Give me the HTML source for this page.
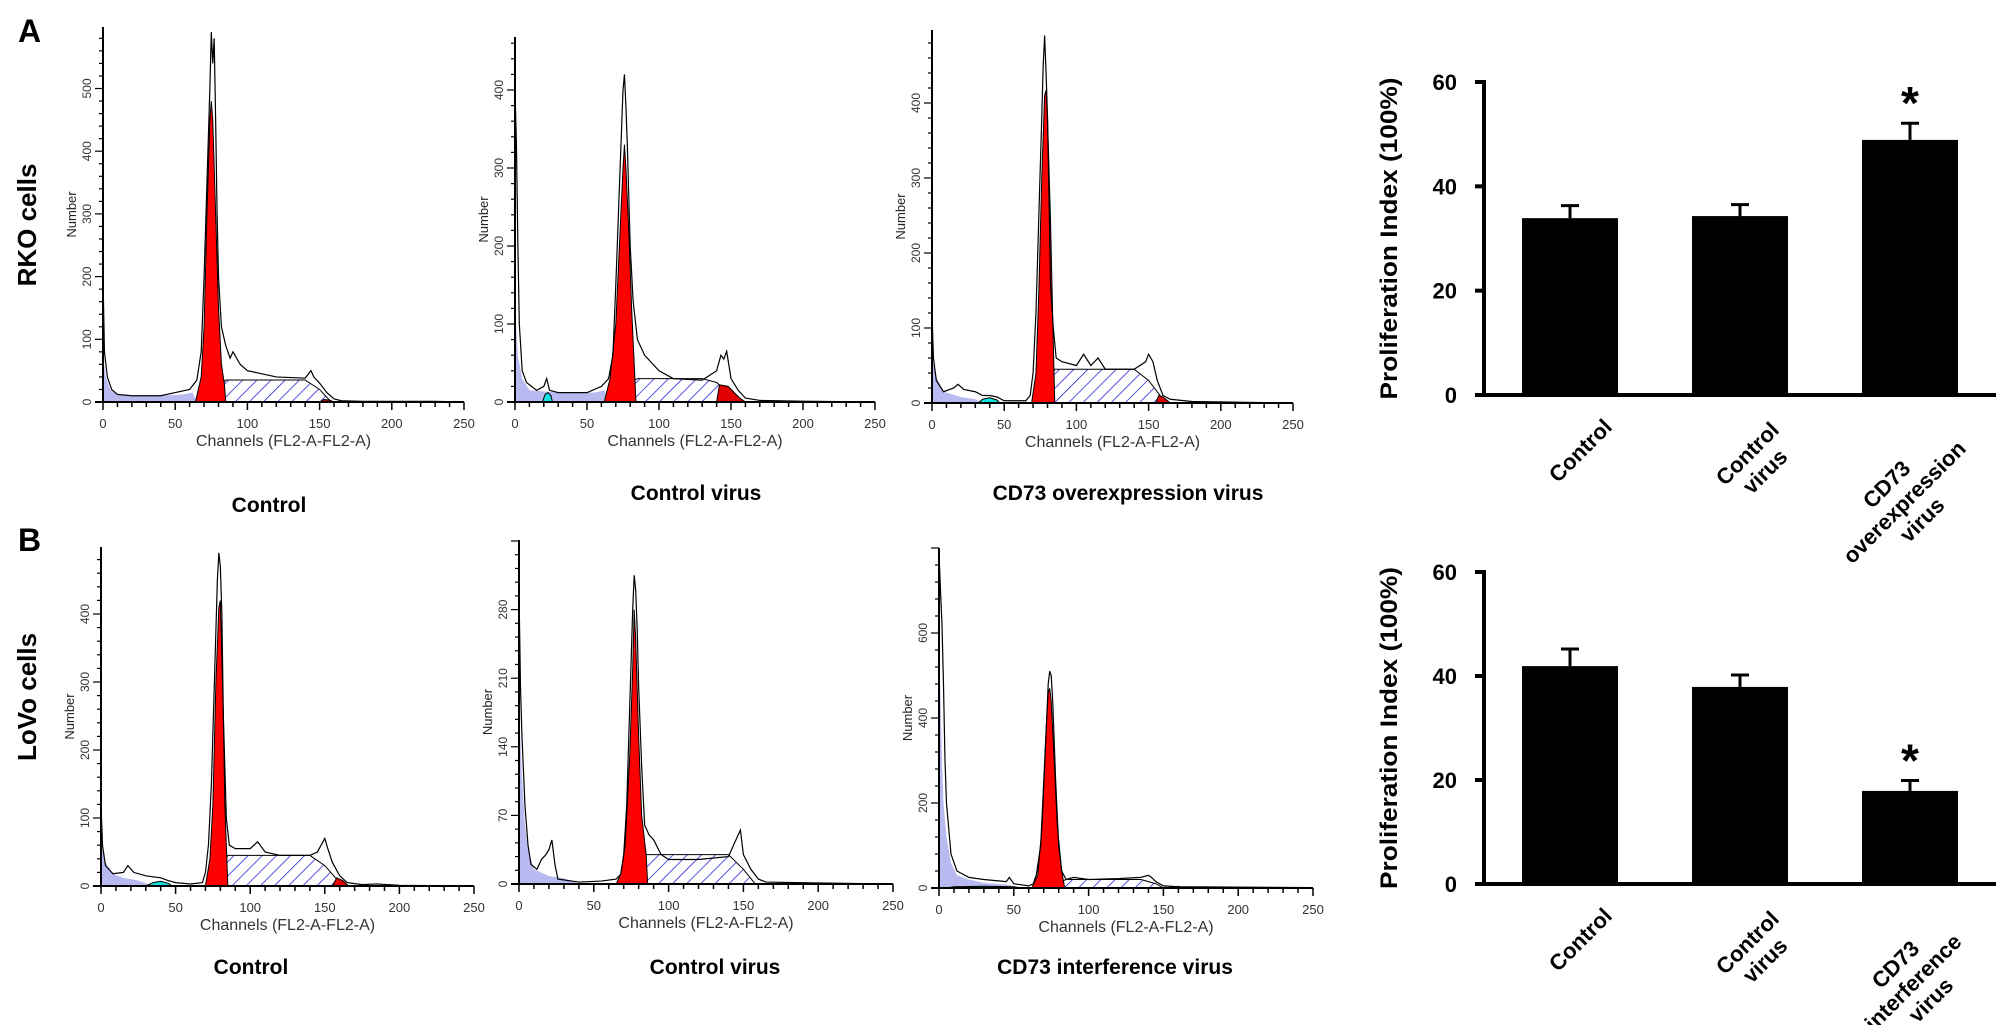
<!DOCTYPE html>
<html><head><meta charset="utf-8">
<style>
html,body{margin:0;padding:0;background:#fff;}
svg{display:block;font-family:"Liberation Sans",Arial,sans-serif;}
</style></head>
<body>
<svg id="fig" width="2008" height="1025" viewBox="0 0 2008 1025" xmlns="http://www.w3.org/2000/svg">
<defs>
<pattern id="hatch" patternUnits="userSpaceOnUse" width="10" height="10" patternTransform="rotate(45)">
<rect width="10" height="10" fill="#fff"/>
<line x1="0" y1="0" x2="0" y2="10" stroke="#2a2ad8" stroke-width="1.6"/>
</pattern>
</defs>
<text x="18" y="42" font-size="32" font-weight="bold">A</text>
<text x="18" y="551" font-size="32" font-weight="bold">B</text>
<text transform="translate(36,225) rotate(-90)" text-anchor="middle" font-size="26" font-weight="bold">RKO cells</text>
<text transform="translate(36,697) rotate(-90)" text-anchor="middle" font-size="26" font-weight="bold">LoVo cells</text>
<g id="hists"></g>
<g id="bars"></g>
</svg>
<script>
// ---------- Histogram data (channel, count) ----------
const a1Outline=[[0,200],[1,80],[3,40],[6,20],[10,12],[20,10],[40,10],[50,15],[60,20],[65,35],[68,80],[70,200],[72,350],[74,500],[75,590],[76,540],[77,580],[78,450],[79,300],[80,200],[82,120],[85,90],[88,70],[90,80],[95,60],[100,50],[110,45],[120,40],[140,38],[144,50],[146,40],[150,30],[155,15],[160,5],[165,2],[180,1],[230,1],[250,0]];
const a1Debris=[[0,72],[2,40],[5,20],[10,12],[20,10],[40,10],[55,12],[62,15],[65,0]];
const a1G1=[[64,0],[68,40],[70,120],[72,300],[74,450],[75,480],[76,450],[78,300],[80,150],[82,60],[84,30],[85,0]];
const a1S=[[70,0],[80,20],[85,35],[140,35],[150,20],[158,0]];
const a1G2=[[150,0],[153,4],[157,3],[160,0]];
const a1Sub=[];
const a1YTicks=[0,100,200,300,400,500];

const a2Outline=[[0,400],[1,330],[2,200],[3,100],[5,40],[8,25],[15,15],[20,20],[22,30],[24,15],[30,12],[50,12],[60,20],[65,30],[68,60],[70,150],[72,250],[74,350],[75,400],[76,420],[77,380],[78,330],[80,200],[82,130],[85,80],[90,60],[95,50],[100,40],[110,30],[130,28],[140,40],[143,60],[145,55],[147,65],[150,30],[155,15],[160,5],[170,2],[200,1],[250,0]];
const a2Debris=[[0,120],[2,60],[5,30],[10,15],[30,12],[55,12],[62,15],[66,0]];
const a2G1=[[62,0],[66,30],[70,100],[73,220],[75,300],[76,330],[77,300],[79,220],[81,120],[83,40],[84,0]];
const a2S=[[70,0],[80,25],[85,30],[130,30],[140,25],[155,0]];
const a2G2=[[140,0],[142,22],[148,20],[156,5],[160,0]];
const a2Sub=[[19,0],[21,10],[23,12],[25,8],[26,0]];
const a2YTicks=[0,100,200,300,400];

const a3Outline=[[0,120],[1,60],[3,30],[8,15],[15,20],[18,25],[22,18],[30,15],[35,10],[40,10],[45,8],[50,3],[65,3],[68,10],[70,40],[72,120],[74,250],[76,380],[77,450],[78,490],[79,440],[80,380],[81,280],[82,160],[84,100],[86,60],[90,55],[100,50],[105,65],[110,50],[115,60],[120,45],[140,45],[148,55],[150,65],[153,55],[156,30],[160,10],[165,5],[180,2],[250,0]];
const a3Debris=[[0,60],[3,35],[8,15],[20,8],[30,5],[35,0]];
const a3G1=[[69,0],[72,40],[74,150],[76,300],[78,410],[79,417],[80,380],[82,250],[84,80],[85,0]];
const a3S=[[75,0],[80,20],[85,45],[140,45],[150,30],[160,5],[163,0]];
const a3G2=[[155,0],[157,10],[160,8],[165,0]];
const a3Sub=[[32,0],[35,5],[40,7],[45,4],[47,0]];
const a3YTicks=[0,100,200,300,400];

const b1Outline=[[0,120],[1,60],[3,30],[8,18],[15,20],[18,30],[22,20],[30,15],[40,12],[45,8],[50,5],[60,3],[68,5],[70,20],[72,60],[74,150],[76,300],[78,450],[79,490],[80,470],[81,400],[82,250],[84,100],[86,60],[90,55],[100,55],[105,65],[110,50],[120,45],[140,45],[145,50],[150,70],[152,55],[155,35],[160,15],[165,5],[175,2],[185,3],[200,1],[250,0]];
const b1Debris=[[0,60],[3,35],[8,18],[15,12],[25,8],[35,0]];
const b1G1=[[70,0],[73,40],[75,120],[77,300],[79,410],[80,420],[82,250],[83,120],[84,60],[85,0]];
const b1S=[[75,0],[80,25],[85,45],[140,45],[150,30],[160,5],[163,0]];
const b1G2=[[155,0],[158,12],[162,8],[166,0]];
const b1Sub=[[30,0],[35,5],[40,7],[45,4],[48,0]];
const b1YTicks=[0,100,200,300,400];

const b2Outline=[[0,300],[1,200],[2,150],[4,80],[6,40],[8,20],[12,15],[15,25],[18,30],[20,35],[22,45],[24,20],[26,5],[40,2],[55,3],[65,5],[68,10],[70,30],[72,80],[74,180],[76,280],[77,315],[78,300],[79,260],[80,200],[82,120],[84,60],[87,50],[90,45],[95,30],[100,25],[120,25],[140,28],[145,45],[148,55],[150,30],[155,15],[160,5],[165,2],[200,1],[250,0]];
const b2Debris=[[0,180],[2,110],[4,60],[6,35],[10,15],[20,8],[30,6],[40,0]];
const b2G1=[[65,0],[68,10],[71,40],[74,130],[76,220],[77,280],[78,250],[80,150],[82,70],[85,30],[86,0]];
const b2S=[[70,0],[78,15],[85,30],[140,30],[150,15],[158,0]];
const b2G2=[];
const b2Sub=[];
const b2YTicks=[0,70,140,210,280];

const b3Outline=[[0,790],[1,700],[2,620],[3,480],[4,300],[5,200],[8,80],[12,40],[20,25],[30,20],[45,15],[47,25],[50,10],[60,5],[63,10],[65,30],[68,100],[70,250],[72,400],[73,480],[74,510],[75,500],[76,440],[78,250],[80,100],[82,40],[85,20],[90,25],[100,20],[120,22],[135,25],[140,30],[142,25],[145,15],[150,5],[160,3],[250,1]];
const b3Debris=[[0,600],[1,450],[2,300],[3,200],[5,120],[8,60],[12,30],[20,20],[30,12],[45,8],[55,0]];
const b3G1=[[62,0],[66,30],[69,150],[72,400],[73,460],[74,470],[75,440],[77,300],[79,150],[82,40],[84,0]];
const b3S=[[72,0],[78,10],[85,20],[135,20],[145,10],[150,0]];
const b3G2=[[157,0],[160,4],[163,0]];
const b3Sub=[[5,0],[10,3],[30,4],[50,3],[55,0]];
const b3YTicks=[0,200,400,600];

const xTicks=[0,50,100,150,200,250];

// ---------- Bar chart data ----------
const barCatsA=[["Control"],["Control","virus"],["CD73","overexpression","virus"]];
const barValsA=[33.9,34.3,48.9];
const barErrA=[2.4,2.2,3.2];
const barSigA=[false,false,true];
const barCatsB=[["Control"],["Control","virus"],["CD73","interference","virus"]];
const barValsB=[41.9,37.9,17.9];
const barErrB=[3.3,2.3,2.0];
const barSigB=[false,false,true];
const barYTicks=[0,20,40,60];

const NS="http://www.w3.org/2000/svg";
function mk(tag,attrs,parent){const e=document.createElementNS(NS,tag);for(const k in attrs)e.setAttribute(k,attrs[k]);parent.appendChild(e);return e;}

const panels=[
 {name:"a1",x0:103,x250:464,y0:402,ppu:62.7,top:27,outline:a1Outline,debris:a1Debris,g1:a1G1,s:a1S,g2:a1G2,sub:a1Sub,yt:a1YTicks,title:"Control",tx:269,ty:512},
 {name:"a2",x0:515,x250:875,y0:402,ppu:78,top:37,outline:a2Outline,debris:a2Debris,g1:a2G1,s:a2S,g2:a2G2,sub:a2Sub,yt:a2YTicks,title:"Control virus",tx:696,ty:500},
 {name:"a3",x0:932,x250:1293,y0:403,ppu:75,top:30,outline:a3Outline,debris:a3Debris,g1:a3G1,s:a3S,g2:a3G2,sub:a3Sub,yt:a3YTicks,title:"CD73 overexpression virus",tx:1128,ty:500},
 {name:"b1",x0:101,x250:474,y0:886,ppu:68,top:547,outline:b1Outline,debris:b1Debris,g1:b1G1,s:b1S,g2:b1G2,sub:b1Sub,yt:b1YTicks,title:"Control",tx:251,ty:974},
 {name:"b2",x0:519,x250:893,y0:884,ppu:98,top:540,outline:b2Outline,debris:b2Debris,g1:b2G1,s:b2S,g2:b2G2,sub:b2Sub,yt:b2YTicks,title:"Control virus",tx:715,ty:974},
 {name:"b3",x0:939,x250:1313,y0:888,ppu:42.5,top:548,outline:b3Outline,debris:b3Debris,g1:b3G1,s:b3S,g2:b3G2,sub:b3Sub,yt:b3YTicks,title:"CD73 interference virus",tx:1115,ty:974}
];

const hg=document.getElementById("hists");
panels.forEach(p=>{
  const g=mk("g",{},hg);
  
  
  const sx=c=>p.x0+c/250*(p.x250-p.x0);
  const sy=v=>p.y0-v*p.ppu/100;
  function area(arr,fill,nm,stroke){
    if(!arr.length)return;
    let d="M"+sx(arr[0][0])+","+p.y0;
    arr.forEach(q=>{d+=" L"+sx(q[0])+","+sy(q[1]);});
    d+=" L"+sx(arr[arr.length-1][0])+","+p.y0+" Z";
    const e=mk("path",{d:d,fill:fill,stroke:stroke||"none","stroke-width":1},g);
    
    
  }
  area(p.debris,"#b9b9f2","debris-area");
  area(p.sub,"#10e0e0","sub-g1-area","#000");
  area(p.s,"url(#hatch)","s-phase-area","#000");
  area(p.g1,"#ff0000","g1-peak-area","#000");
  area(p.g2,"#e00000","g2-peak-area","#000");
  let d="";
  p.outline.forEach((q,i)=>{d+=(i?" L":"M")+sx(q[0])+","+sy(q[1]);});
  const ol=mk("path",{d:d,fill:"none",stroke:"#000","stroke-width":1.2},g);
  
  
  const ax=mk("line",{x1:p.x0-8,y1:p.y0,x2:p.x250,y2:p.y0,stroke:"#000","stroke-width":2},g);
  
  
  const ay=mk("line",{x1:p.x0,y1:p.y0,x2:p.x0,y2:p.top,stroke:"#000","stroke-width":2},g);
  
  
  for(let c=0;c<=250;c+=10){
    mk("line",{x1:sx(c),y1:p.y0,x2:sx(c),y2:p.y0+(c%50===0?8:5),stroke:"#000","stroke-width":1.5},g);
  }
  xTicks.forEach(c=>{
    const t=mk("text",{x:sx(c),y:p.y0+26,"text-anchor":"middle","font-size":13,fill:"#333"},g);
    t.textContent=c;
    
    
  });
  const step=p.yt[1]-p.yt[0];
  const maxV=(p.y0-p.top)/p.ppu*100;
  for(let v=0;v<=maxV;v+=step/5){
    mk("line",{x1:p.x0,y1:sy(v),x2:p.x0-(Math.abs(v/step-Math.round(v/step))<1e-6?8:4),y2:sy(v),stroke:"#000","stroke-width":1.2},g);
  }
  p.yt.forEach(v=>{
    const t=mk("text",{transform:"translate("+(p.x0-12)+","+sy(v)+") rotate(-90)","text-anchor":"middle","font-size":12,fill:"#333"},g);
    t.textContent=v;
    
    
  });
  const yl=mk("text",{transform:"translate("+(p.x0-27)+","+(p.y0-(p.y0-p.top)*0.5)+") rotate(-90)","text-anchor":"middle","font-size":13,fill:"#222"},g);
  yl.textContent="Number";
  
  
  const xl=mk("text",{x:(p.x0+p.x250)/2,y:p.y0+44,"text-anchor":"middle","font-size":16,fill:"#333"},g);
  xl.textContent="Channels (FL2-A-FL2-A)";
  
  
  const tl=mk("text",{x:p.tx,y:p.ty,"text-anchor":"middle","font-size":21,"font-weight":"bold"},g);
  tl.textContent=p.title;
  
  
});

// ---------- Bar charts ----------
const bg=document.getElementById("bars");
function barChart(nm,ax,y0,y60,cats,vals,errs,sig){
  const g=mk("g",{},bg);
  
  
  const sy=v=>y0-(v/60)*(y0-y60);
  const bx=i=>1522+i*170;
  const bw=96;
  vals.forEach((v,i)=>{
    const r=mk("rect",{x:bx(i),y:sy(v),width:bw,height:y0-sy(v),fill:"#000"},g);
    
    
    const cx=bx(i)+bw/2;
    const el=mk("line",{x1:cx,y1:sy(v),x2:cx,y2:sy(v+errs[i]),stroke:"#000","stroke-width":3},g);
    
    
    mk("line",{x1:cx-9,y1:sy(v+errs[i]),x2:cx+9,y2:sy(v+errs[i]),stroke:"#000","stroke-width":3},g);
    if(sig[i]){
      const s=mk("text",{x:cx,y:sy(v+errs[i])-4,"text-anchor":"middle","font-size":46,"font-weight":"bold"},g);
      s.textContent="*";
      
      
    }
    const lines=cats[i];
    const tg=mk("g",{transform:"translate("+(cx+32)+","+(y0+22)+") rotate(-45)"},g);
    
    
    const W=Math.max(...lines.map(s=>s.length))*12.4;
    lines.forEach((s,j)=>{
      const t=mk("text",{x:lines.length>1?-W/2:0,y:16+j*25,"text-anchor":lines.length>1?"middle":"end","font-size":22,"font-weight":"bold"},tg);
      t.textContent=s;
    });
  });
  const a1=mk("line",{x1:ax,y1:y60-2,x2:ax,y2:y0+2,stroke:"#000","stroke-width":4},g);
  
  
  const a2=mk("line",{x1:ax-8,y1:y0,x2:1996,y2:y0,stroke:"#000","stroke-width":4},g);
  
  
  barYTicks.forEach(v=>{
    mk("line",{x1:ax-9,y1:sy(v),x2:ax,y2:sy(v),stroke:"#000","stroke-width":4},g);
    const t=mk("text",{x:ax-27,y:sy(v)+8,"text-anchor":"end","font-size":22,"font-weight":"bold"},g);
    t.textContent=v;
    
    
  });
  const yt=mk("text",{transform:"translate(1397,"+((y0+y60)/2)+") rotate(-90)","text-anchor":"middle","font-size":24,"font-weight":"bold",textLength:322,lengthAdjust:"spacingAndGlyphs"},g);
  yt.textContent="Proliferation Index (100%)";
  
  
}
barChart("bar-chart-a",1484,395,82,barCatsA,barValsA,barErrA,barSigA);
barChart("bar-chart-b",1484,884,572,barCatsB,barValsB,barErrB,barSigB);
</script>
</body></html>
